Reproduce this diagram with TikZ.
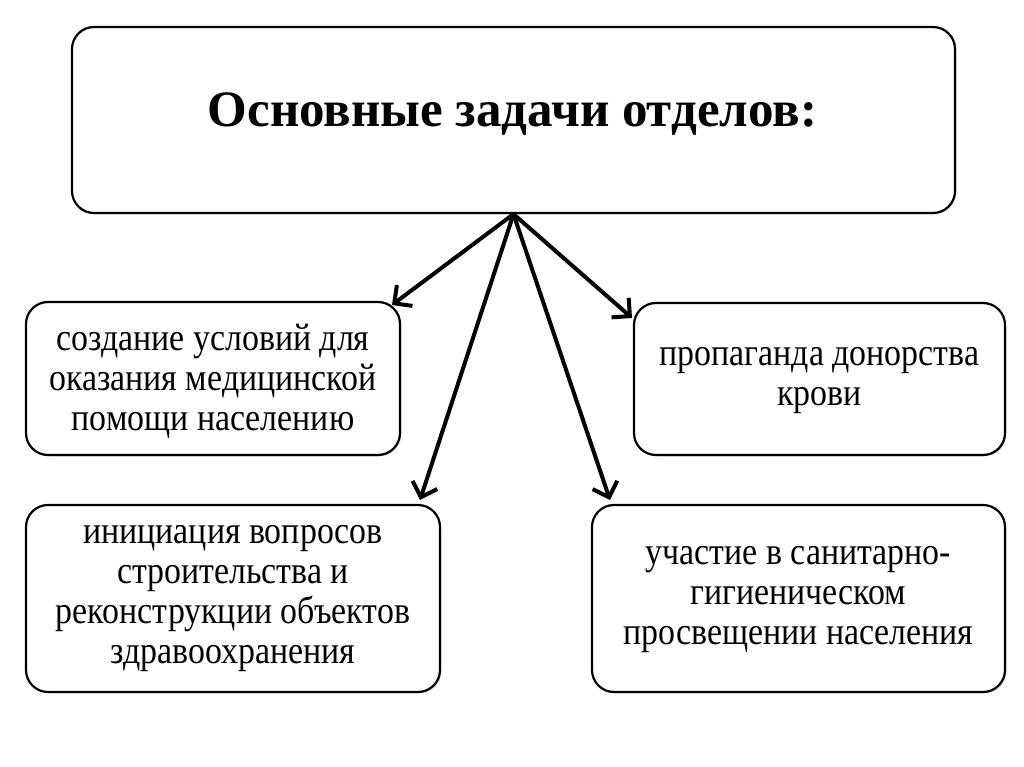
\documentclass[tikz,border=0pt]{standalone}
\usepackage{fontspec}
\setmainfont{Liberation Serif}
\newfontfamily\bodyfont[FakeStretch=0.88]{Liberation Serif}
\usetikzlibrary{arrows.meta,shadows}
\tikzset{
  box/.style={draw=black, line width=2.2pt, rounded corners=22pt, fill=white,
    inner sep=0pt,
    drop shadow={opacity=0.25, shadow xshift=1.5pt, shadow yshift=-1.5pt}},
  txt/.style={align=center, inner sep=0pt, font=\bodyfont\fontsize{38.5}{40}\selectfont},
  arr/.style={line width=4pt, -{Straight Barb[length=13pt,width=26pt,line width=4pt]}}
}
\begin{document}
\begin{tikzpicture}[x=1pt,y=1pt]
\useasboundingbox (0,0) rectangle (1024,-767);
\node[box, minimum width=883pt, minimum height=186pt] (title) at (513.5,-120) {};
\node[box, minimum width=374pt, minimum height=153pt] (b1) at (213,-378.5) {};
\node[box, minimum width=371pt, minimum height=152pt] (b2) at (819.5,-379) {};
\node[box, minimum width=414pt, minimum height=187pt] (b3) at (233,-598.5) {};
\node[box, minimum width=413pt, minimum height=187pt] (b4) at (798.5,-598.5) {};
\node[align=center, inner sep=0pt, font=\fontsize{51}{56}\selectfont\bfseries]
  (tt) at (512.5,-114) {Основные задачи отделов:};
\node[txt] (l1) at (213,-381) {создание условий для\\оказания медицинской\\помощи населению};
\node[txt] (l2) at (819.5,-381) {пропаганда донорства\\крови};
\node[txt] (l3) at (233,-599) {инициация вопросов\\строительства и\\реконструкции объектов\\здравоохранения};
\node[txt] (l4) at (798.5,-600) {участие в санитарно-\\гигиеническом\\просвещении населения};
\coordinate (t1) at (392,-305);
\coordinate (t2) at (632,-318);
\coordinate (t3) at (420,-500);
\coordinate (t4) at (610,-500);
\draw[arr] (title.south) -- (t1);
\draw[arr] (title.south) -- (t2);
\draw[arr] (title.south) -- (t3);
\draw[arr] (title.south) -- (t4);
\end{tikzpicture}
\end{document}
